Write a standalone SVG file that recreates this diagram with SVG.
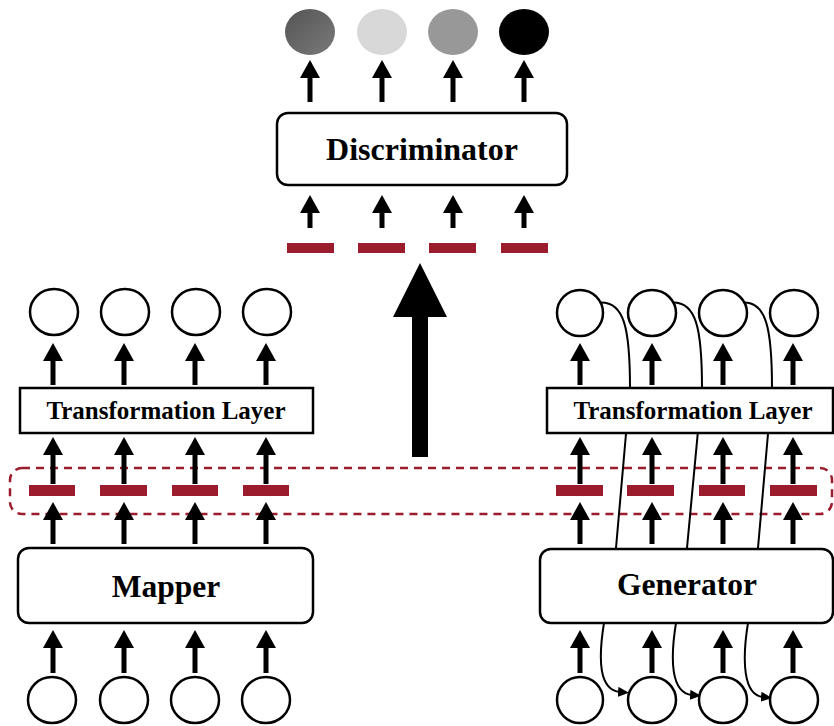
<svg xmlns="http://www.w3.org/2000/svg" width="834" height="726" viewBox="0 0 834 726">
  <style>
    .node { fill: #fff; stroke: #000; stroke-width: 2.5; }
    .unit { fill: #fff; stroke: #000; stroke-width: 2.5; }
    .bar { fill: #9b1c2c; }
    .arrow { stroke: #000; stroke-width: 5; marker-end: url(#head); }
    .link { fill: none; stroke: #000; stroke-width: 2; }
    .link.end { marker-end: url(#tip); }
    .label { font-family: "Liberation Serif", serif; font-weight: 700; fill: #000; text-anchor: middle; }
    .group { fill: none; stroke: #9b1c2c; stroke-width: 2.5; stroke-dasharray: 8 6; }
  </style>
  <defs>
    <marker id="head" markerUnits="userSpaceOnUse" viewBox="0 0 18 20" refX="0" refY="10" markerWidth="18" markerHeight="20" orient="auto">
      <path d="M0,0 L18,10 L0,20 Z" fill="#000"/>
    </marker>
    <marker id="tip" markerUnits="userSpaceOnUse" viewBox="0 0 11 10" refX="2" refY="5" markerWidth="11" markerHeight="10" orient="auto">
      <path d="M0,0 L11,5 L0,10 Z" fill="#000"/>
    </marker>
    <linearGradient id="g1" x1="0" y1="0" x2="1" y2="1">
      <stop offset="0" stop-color="#545454"/>
      <stop offset="1" stop-color="#7a7a7a"/>
    </linearGradient>
  </defs>

  <!-- shared feature group (dashed outline) -->
  <rect class="group" x="10" y="468" width="822" height="46" rx="12"/>

  <!-- connectors -->
  <g id="connectors">
    <!-- discriminator outputs -->
    <line class="arrow" x1="310" y1="102" x2="310" y2="78"/>
    <line class="arrow" x1="382" y1="102" x2="382" y2="78"/>
    <line class="arrow" x1="453" y1="102" x2="453" y2="78"/>
    <line class="arrow" x1="524" y1="102" x2="524" y2="78"/>
    <!-- discriminator inputs -->
    <line class="arrow" x1="310" y1="228" x2="310" y2="213"/>
    <line class="arrow" x1="382" y1="228" x2="382" y2="213"/>
    <line class="arrow" x1="453" y1="228" x2="453" y2="213"/>
    <line class="arrow" x1="524" y1="228" x2="524" y2="213"/>
    <!-- big arrow up to discriminator -->
    <polygon points="420,263 447,317 428,317 428,457 412,457 412,317 393,317" fill="#000"/>

    <!-- mapper side -->
    <line class="arrow" x1="53" y1="385" x2="53" y2="361"/>
    <line class="arrow" x1="124" y1="385" x2="124" y2="361"/>
    <line class="arrow" x1="195" y1="385" x2="195" y2="361"/>
    <line class="arrow" x1="266" y1="385" x2="266" y2="361"/>
    <line class="arrow" x1="53" y1="484" x2="53" y2="455"/>
    <line class="arrow" x1="124" y1="484" x2="124" y2="455"/>
    <line class="arrow" x1="195" y1="484" x2="195" y2="455"/>
    <line class="arrow" x1="266" y1="484" x2="266" y2="455"/>
    <line class="arrow" x1="53" y1="544" x2="53" y2="520"/>
    <line class="arrow" x1="124" y1="544" x2="124" y2="520"/>
    <line class="arrow" x1="195" y1="544" x2="195" y2="520"/>
    <line class="arrow" x1="266" y1="544" x2="266" y2="520"/>
    <line class="arrow" x1="53" y1="673" x2="53" y2="648"/>
    <line class="arrow" x1="124" y1="673" x2="124" y2="648"/>
    <line class="arrow" x1="195" y1="673" x2="195" y2="648"/>
    <line class="arrow" x1="266" y1="673" x2="266" y2="648"/>

    <!-- generator side -->
    <line class="arrow" x1="580" y1="385" x2="580" y2="361"/>
    <line class="arrow" x1="652" y1="385" x2="652" y2="361"/>
    <line class="arrow" x1="723" y1="385" x2="723" y2="361"/>
    <line class="arrow" x1="793" y1="385" x2="793" y2="361"/>
    <line class="arrow" x1="580" y1="484" x2="580" y2="455"/>
    <line class="arrow" x1="652" y1="484" x2="652" y2="455"/>
    <line class="arrow" x1="723" y1="484" x2="723" y2="455"/>
    <line class="arrow" x1="793" y1="484" x2="793" y2="455"/>
    <line class="arrow" x1="580" y1="544" x2="580" y2="520"/>
    <line class="arrow" x1="652" y1="544" x2="652" y2="520"/>
    <line class="arrow" x1="723" y1="544" x2="723" y2="520"/>
    <line class="arrow" x1="793" y1="544" x2="793" y2="520"/>
    <line class="arrow" x1="580" y1="673" x2="580" y2="648"/>
    <line class="arrow" x1="652" y1="673" x2="652" y2="648"/>
    <line class="arrow" x1="723" y1="673" x2="723" y2="648"/>
    <line class="arrow" x1="793" y1="673" x2="793" y2="648"/>

    <!-- autoregressive feedback links -->
    <path class="link end" d="M596,303 C625,298 630,330 630,388 L616,548 L604,623 C598,660 599,690 620,692"/>
    <path class="link end" d="M668,303 C697,298 702,330 702,388 L687,548 L676,623 C670,660 671,693 692,695"/>
    <path class="link end" d="M739,303 C767,298 772,330 772,388 L758,548 L748,623 C742,660 743,695 763,697"/>
  </g>

  <!-- discriminator -->
  <g id="disc-out">
    <ellipse cx="310" cy="32" rx="25" ry="23" fill="url(#g1)"/>
    <ellipse cx="382" cy="32" rx="25" ry="23" fill="#d8d8d8"/>
    <ellipse cx="453" cy="32" rx="25" ry="23" fill="#989898"/>
    <ellipse cx="524" cy="32" rx="25" ry="23" fill="#000"/>
  </g>
  <g id="discriminator">
    <rect class="node" x="277" y="113" width="290" height="72" rx="11"/>
    <text class="label" x="422" y="160" font-size="32">Discriminator</text>
  </g>
  <g id="disc-in">
    <rect class="bar" x="287" y="243" width="47" height="10"/>
    <rect class="bar" x="358" y="243" width="47" height="10"/>
    <rect class="bar" x="429" y="243" width="47" height="10"/>
    <rect class="bar" x="501" y="243" width="47" height="10"/>
  </g>

  <!-- mapper branch -->
  <g id="mapper-out">
    <ellipse class="unit" cx="54" cy="312" rx="24" ry="23"/>
    <ellipse class="unit" cx="125" cy="312" rx="24" ry="23"/>
    <ellipse class="unit" cx="196" cy="312" rx="24" ry="23"/>
    <ellipse class="unit" cx="267" cy="312" rx="24" ry="23"/>
  </g>
  <g id="mapper-transform">
    <rect class="node" x="20" y="388" width="293" height="45"/>
    <text class="label" x="166" y="419" font-size="25">Transformation Layer</text>
  </g>
  <g id="mapper-features">
    <rect class="bar" x="29" y="485" width="46" height="11"/>
    <rect class="bar" x="100" y="485" width="47" height="11"/>
    <rect class="bar" x="172" y="485" width="46" height="11"/>
    <rect class="bar" x="243" y="485" width="46" height="11"/>
  </g>
  <g id="mapper">
    <rect class="node" x="18" y="548" width="295" height="75" rx="11"/>
    <text class="label" x="166" y="597" font-size="31.5">Mapper</text>
  </g>
  <g id="mapper-in">
    <ellipse class="unit" cx="52" cy="700" rx="24" ry="23"/>
    <ellipse class="unit" cx="124" cy="700" rx="24" ry="23"/>
    <ellipse class="unit" cx="195" cy="700" rx="24" ry="23"/>
    <ellipse class="unit" cx="266" cy="700" rx="24" ry="23"/>
  </g>

  <!-- generator branch -->
  <g id="gen-out">
    <ellipse class="unit" cx="580" cy="313" rx="23" ry="23"/>
    <ellipse class="unit" cx="652" cy="313" rx="24" ry="23"/>
    <ellipse class="unit" cx="723" cy="313" rx="24" ry="23"/>
    <ellipse class="unit" cx="794" cy="313" rx="24" ry="23"/>
  </g>
  <g id="gen-transform">
    <rect class="node" x="547" y="388" width="286" height="45"/>
    <text class="label" x="693" y="419" font-size="25">Transformation Layer</text>
  </g>
  <g id="gen-features">
    <rect class="bar" x="556" y="485" width="47" height="11"/>
    <rect class="bar" x="627" y="485" width="47" height="11"/>
    <rect class="bar" x="699" y="485" width="46" height="11"/>
    <rect class="bar" x="770" y="485" width="47" height="11"/>
  </g>
  <g id="generator">
    <rect class="node" x="540" y="549" width="293" height="74" rx="11"/>
    <text class="label" x="687" y="595" font-size="31.5">Generator</text>
  </g>
  <g id="gen-in">
    <ellipse class="unit" cx="580" cy="700" rx="23" ry="23"/>
    <ellipse class="unit" cx="652" cy="700" rx="24" ry="23"/>
    <ellipse class="unit" cx="723" cy="700" rx="24" ry="23"/>
    <ellipse class="unit" cx="794" cy="700" rx="24" ry="23"/>
  </g>
</svg>
